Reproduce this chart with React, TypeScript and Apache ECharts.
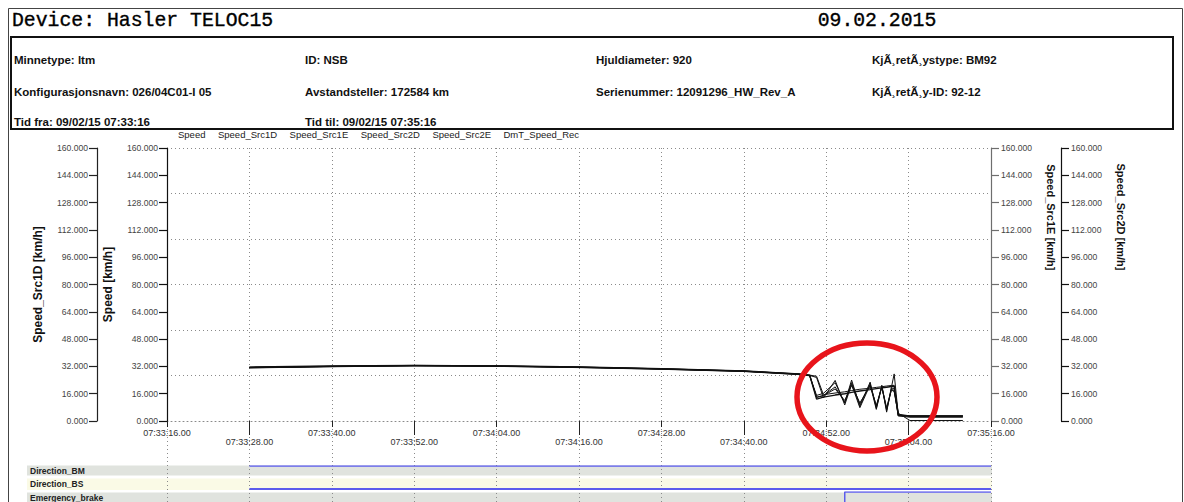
import React, { useEffect, useRef } from "react";
import * as echarts from "echarts";

const deviceTitle = "Device: Hasler TELOC15";
const reportDate = "09.02.2015";

const infoRows = [
  ["Minnetype: ltm", "ID: NSB", "Hjuldiameter: 920", "Kj\u00C3\u00B8ret\u00C3\u00B8ystype: BM92"],
  ["Konfigurasjonsnavn: 026/04C01-I 05", "Avstandsteller: 172584 km", "Serienummer: 12091296_HW_Rev_A", "Kj\u00C3\u00B8ret\u00C3\u00B8y-ID: 92-12"],
  ["Tid fra: 09/02/15 07:33:16", "Tid til: 09/02/15 07:35:16", "", ""],
];

const seriesNames = ["Speed", "Speed_Src1D", "Speed_Src1E", "Speed_Src2D", "Speed_Src2E", "DmT_Speed_Rec"];

// seconds after 07:33:16
const timeOffsets = [12, 24, 36, 48, 60, 72, 84, 92, 93.6, 94.6, 95.6, 97.3, 98.7, 99.7, 100.9, 102.4, 103.3, 104.1, 104.8, 105.5, 105.9, 106.5, 108.2, 115.9];

const speed = [31.6, 32.2, 32.6, 32.3, 31.7, 30.7, 29.4, 27.6, 26.8, 12.8, 14.0, 15.2, 16.0, 16.8, 17.6, 18.4, 19.0, 19.4, 19.8, 20.2, 20.4, 3.2, 3.0, 3.0];
const speedSrc1D = [31.4, 32.0, 32.5, 32.2, 31.6, 30.6, 29.3, 27.4, 26.7, 25.5, 13.5, 23.8, 9.4, 21.5, 7.8, 21.2, 6.8, 20.5, 5.2, 19.8, 27.6, 3.5, 2.9, 2.9];
const speedSrc1E = [31.2, 31.9, 32.4, 32.1, 31.4, 30.4, 29.1, 27.3, 26.6, 15.0, 16.2, 22.5, 10.5, 24.0, 8.6, 22.8, 7.4, 21.0, 6.2, 18.6, 17.8, 3.0, 2.2, 2.2];
const speedSrc2D = [31.3, 32.0, 32.5, 32.2, 31.5, 30.5, 29.2, 27.5, 26.6, 14.0, 15.0, 20.0, 11.0, 22.5, 9.8, 21.8, 8.4, 20.2, 6.8, 19.4, 18.8, 3.4, 2.6, 2.6];
const speedSrc2E = [31.1, 31.8, 32.3, 32.0, 31.3, 30.3, 29.0, 27.2, 26.5, 13.8, 14.8, 18.8, 12.0, 20.8, 10.6, 20.6, 9.2, 19.6, 7.8, 18.2, 17.2, 4.0, 3.0, 3.0];
const dmtSpeedRec = [31.5, 32.1, 32.6, 32.3, 31.6, 30.6, 29.3, 27.6, 26.9, 26.2, 15.4, 16.4, 17.1, 17.9, 18.6, 19.2, 19.7, 20.1, 20.5, 20.8, 20.9, 4.5, 0.3, 0.3];

const seriesValues = [speed, speedSrc1D, speedSrc1E, speedSrc2D, speedSrc2E, dmtSpeedRec];
const seriesAxis = [0, 1, 2, 3, 0, 0];

const xTickLabels = [
  "07:33:16.00", "07:33:28.00", "07:33:40.00", "07:33:52.00", "07:34:04.00", "07:34:16.00",
  "07:34:28.00", "07:34:40.00", "07:34:52.00", "07:35:04.00", "07:35:16.00",
];

const yAxisNames = ["Speed [km/h]", "Speed_Src1D [km/h]", "Speed_Src1E [km/h]", "Speed_Src2D [km/h]"];

const signalNames = ["Direction_BM", "Direction_BS", "Emergency_brake"];
const directionBM = [[12, 1], [120, 1]];
const directionBS = [[12, 0], [120, 0]];
const emergencyBrake = [[12, 0], [98.7, 0], [98.7, 1], [120, 1]];

const FONT = "Liberation Sans, Arial, sans-serif";
const MONO = "Liberation Mono, Courier New, monospace";
const dotted = { color: "#8a8a8a", type: [1, 3] as any, width: 1 };

export default function App() {
  const ref = useRef<HTMLDivElement>(null);

  useEffect(() => {
    document.body.style.margin = "0";
    document.body.style.overflow = "hidden";
    const chart = echarts.init(ref.current!, null, { renderer: "svg" });

    const plotLeft = 167;
    const plotWidth = 824;

    const yAxisSpec = (i: number, position: string, offset: number, lineColor: string, nameGap: number, nameRotate: number, nameSize: number, namePadding: number[], labelMargin: number) => ({
      type: "value",
      gridIndex: 0,
      position,
      offset,
      min: 0,
      max: 160,
      interval: 16,
      name: yAxisNames[i],
      nameLocation: "middle",
      nameGap,
      nameRotate,
      nameTextStyle: { fontFamily: FONT, fontWeight: "bold", fontSize: nameSize, color: "#111", padding: namePadding },
      axisLine: { show: true, onZero: false, lineStyle: { color: lineColor, width: 1.2, type: "solid" } },
      axisTick: { show: true, inside: false, length: 8, lineStyle: { color: lineColor, width: 1.2, type: "solid" } },
      axisLabel: { show: true, margin: labelMargin, color: "#444", fontSize: 8.6, fontFamily: FONT, formatter: (v: number) => v.toFixed(3) },
      splitLine: { show: false },
    });

    const hiddenX = (gridIndex: number) => ({ type: "value", gridIndex, min: 0, max: 120, interval: 12, show: false });
    const hiddenY = (gridIndex: number, max = 1) => ({ type: "value", gridIndex, min: 0, max, show: false });

    const lineSeries = seriesNames.map((name, i) => ({
      name,
      type: "line",
      xAxisIndex: 0,
      yAxisIndex: seriesAxis[i],
      data: timeOffsets.map((t, k) => [t, seriesValues[i][k]]),
      showSymbol: false,
      symbol: "none",
      lineStyle: { color: "#111", width: i === 0 ? 1.4 : 1 },
      itemStyle: { color: "#111" },
      z: 4,
    }));

    const signalSeries = [directionBM, directionBS, emergencyBrake].map((d, i) => ({
      name: signalNames[i],
      type: "line",
      xAxisIndex: 2 + i,
      yAxisIndex: 5 + i,
      data: d,
      showSymbol: false,
      symbol: "none",
      lineStyle: { color: "#5c5cec", width: i === 1 ? 2 : 1.5 },
      itemStyle: { color: "#5c5cec" },
      z: 4,
    }));

    const graphics: any[] = [
      { type: "rect", shape: { x: 8.5, y: 8.5, width: 1174, height: 520 }, style: { fill: "none", stroke: "#444", lineWidth: 1 } },
      { type: "text", x: 12, y: 21, style: { text: deviceTitle, font: `19.8px ${MONO}`, fill: "#000", stroke: "#000", lineWidth: 0.35, verticalAlign: "middle" } },
      { type: "text", x: 877, y: 21, style: { text: reportDate, font: `19.8px ${MONO}`, fill: "#000", stroke: "#000", lineWidth: 0.35, align: "center", verticalAlign: "middle" } },
      { type: "rect", shape: { x: 11, y: 37, width: 1162, height: 92 }, style: { fill: "none", stroke: "#111", lineWidth: 2 } },
    ];
    const colX = [14, 305, 596, 872];
    const rowY = [60, 91.5, 122];
    infoRows.forEach((row, r) =>
      row.forEach((txt, c) => {
        if (!txt) return;
        graphics.push({ type: "text", x: colX[c], y: rowY[r], style: { text: txt, font: `bold 11.5px ${FONT}`, fill: "#111", verticalAlign: "middle" } });
      })
    );
    const bandY = [465.5, 478.5, 492.5];
    const bandH = [10, 11.5, 20];
    const bandFill = ["#e0e3de", "#fafae6", "#e0e3de"];
    signalNames.forEach((n, i) => {
      graphics.push({ type: "rect", z: -5, shape: { x: 27, y: bandY[i], width: 965, height: bandH[i] }, style: { fill: bandFill[i] } });
      graphics.push({ type: "text", z: 5, x: 30, y: bandY[i] + 5.5, style: { text: n, font: `bold 8.5px ${FONT}`, fill: "#222", verticalAlign: "middle" } });
    });
    graphics.push({ type: "ellipse", z: 100, shape: { cx: 867, cy: 397, rx: 70, ry: 54 }, style: { fill: "none", stroke: "#e8141b", lineWidth: 5.5 } });

    const option: any = {
      animation: false,
      backgroundColor: "#ffffff",
      textStyle: { fontFamily: FONT },
      legend: {
        left: 168,
        top: 124,
        icon: "none",
        itemWidth: 0,
        itemHeight: 0,
        itemGap: 7.5,
        selectedMode: false,
        textStyle: { fontSize: 9.5, color: "#222", fontFamily: FONT },
        data: seriesNames,
      },
      grid: [
        { left: plotLeft, top: 148, width: plotWidth, height: 273, outerBoundsMode: "none" },
        { left: plotLeft, top: 466, width: plotWidth, height: 9, outerBoundsMode: "none" },
        { left: plotLeft, top: 479, width: plotWidth, height: 10, outerBoundsMode: "none" },
        { left: plotLeft, top: 492, width: plotWidth, height: 30, outerBoundsMode: "none" },
        { left: plotLeft, top: 421, width: plotWidth, height: 90, outerBoundsMode: "none" },
      ],
      xAxis: [
        {
          type: "value",
          gridIndex: 0,
          position: "bottom",
          min: 0,
          max: 120,
          interval: 12,
          axisLine: { show: true, onZero: false, lineStyle: dotted },
          axisTick: { show: true, length: 6, lineStyle: { color: "#222", width: 1, type: "solid" } },
          axisLabel: {
            show: true,
            margin: 7,
            color: "#333",
            fontSize: 9,
            lineHeight: 9,
            fontFamily: FONT,
            formatter: (v: number) => {
              const i = Math.round(v / 12);
              const s = xTickLabels[i] ?? "";
              return i % 2 ? "\n" + s : s;
            },
          },
          splitLine: { show: true, lineStyle: dotted },
        },
        {
          type: "value",
          gridIndex: 0,
          position: "bottom",
          min: 0,
          max: 120,
          interval: 24,
          axisLine: { show: false, onZero: false },
          axisTick: { show: false },
          axisLabel: { show: false },
          splitLine: { show: false },
          minorTick: { show: true, splitNumber: 2, length: 14, lineStyle: { color: "#222", width: 1, type: "solid" } },
          minorSplitLine: { show: false },
        },
        hiddenX(1),
        hiddenX(2),
        hiddenX(3),
        {
          type: "value",
          gridIndex: 4,
          min: 0,
          max: 120,
          interval: 12,
          axisLine: { show: false, onZero: false },
          axisTick: { show: false },
          axisLabel: { show: false },
          splitLine: { show: true, lineStyle: dotted },
        },
      ],
      yAxis: [
        yAxisSpec(0, "left", 0, "#111", 53, 90, 12, [0, 0, 0, 0], 9),
        yAxisSpec(1, "left", 70, "#222", 53, 90, 12, [0, 0, 0, 0], 9),
        yAxisSpec(2, "right", 0, "#6e6e6e", 54, -90, 11, [0, 14, 0, 0], 10),
        yAxisSpec(3, "right", 70, "#111", 54, -90, 11, [0, 14, 0, 0], 10),
        {
          type: "value",
          gridIndex: 0,
          position: "left",
          min: 0,
          max: 6,
          interval: 1,
          axisLine: { show: false, onZero: false },
          axisTick: { show: false },
          axisLabel: { show: false },
          splitLine: { show: true, lineStyle: dotted },
        },
        hiddenY(1),
        hiddenY(2),
        hiddenY(3),
        hiddenY(4),
      ],
      series: [...lineSeries, ...signalSeries],
      graphic: { elements: graphics },
    };

    option.yAxis[2].nameTextStyle.align = "right";
    option.yAxis[3].nameTextStyle.align = "right";

    chart.setOption(option);
    return () => chart.dispose();
  }, []);

  return <div ref={ref} style={{ width: 1184, height: 502 }} />;
}
